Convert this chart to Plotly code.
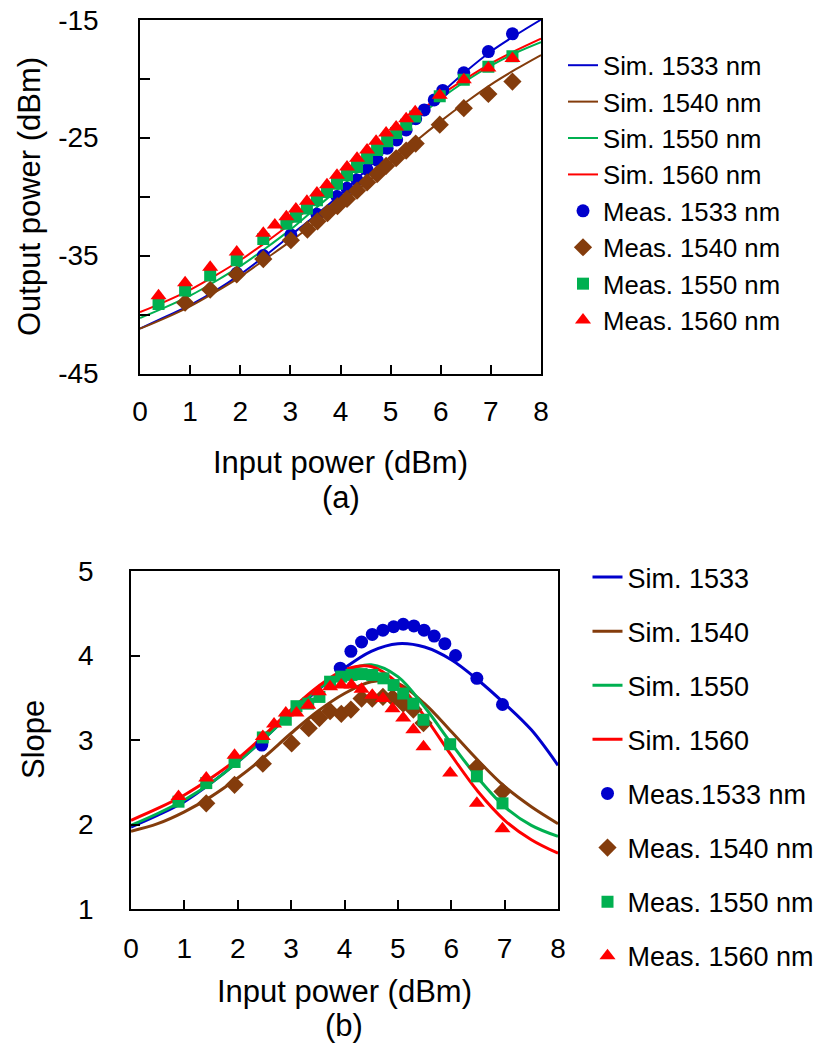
import plotly.graph_objects as go

# ---------------- Data: (a) output power vs input power ----------------
sim_x = [0, 0.5, 1, 1.5, 2, 2.5, 3, 3.5, 4, 4.5, 5, 5.5, 6, 6.5, 7, 7.5, 8]
sim_a_1533 = [-41.2, -40.2, -39.2, -38.0, -36.6, -35.0, -33.3, -31.6, -29.8, -27.8, -25.7, -23.5, -21.3, -19.4, -17.7, -16.3, -15.0]
sim_a_1540 = [-41.2, -40.3, -39.3, -38.1, -36.8, -35.3, -33.8, -32.2, -30.6, -28.9, -27.1, -25.3, -23.6, -22.0, -20.5, -19.2, -18.0]
sim_a_1550 = [-40.3, -39.4, -38.4, -37.2, -35.9, -34.4, -32.8, -31.0, -29.2, -27.3, -25.4, -23.5, -21.7, -20.2, -18.9, -17.8, -16.9]
sim_a_1560 = [-39.8, -38.9, -37.9, -36.7, -35.4, -33.9, -32.3, -30.5, -28.7, -26.8, -24.9, -23.1, -21.4, -20.0, -18.7, -17.6, -16.6]

meas_a_1533_x = [1.93, 2.46, 3.01, 3.53, 3.93, 4.13, 4.33, 4.53, 4.73, 4.93, 5.12, 5.31, 5.50, 5.67, 5.87, 6.04, 6.46, 6.95, 7.43]
meas_a_1533_y = [-36.5, -35.0, -33.25, -31.5, -30.0, -29.3, -28.6, -27.7, -26.9, -25.9, -25.2, -24.35, -23.4, -22.65, -21.8, -21.0, -19.5, -17.7, -16.2]

meas_a_1540_x = [0.90, 1.40, 1.93, 2.46, 3.01, 3.34, 3.54, 3.74, 3.94, 4.13, 4.33, 4.53, 4.73, 4.91, 5.11, 5.31, 5.50, 5.98, 6.46, 6.95, 7.43]
meas_a_1540_y = [-39.0, -37.9, -36.6, -35.3, -33.7, -32.8, -32.1, -31.4, -30.8, -30.2, -29.5, -28.8, -28.1, -27.4, -26.75, -26.1, -25.5, -23.9, -22.5, -21.3, -20.25]

meas_a_1550_x = [0.37, 0.90, 1.40, 1.93, 2.46, 2.92, 3.11, 3.33, 3.53, 3.73, 3.93, 4.13, 4.33, 4.53, 4.73, 4.93, 5.11, 5.31, 5.49, 5.98, 6.46, 6.95, 7.43]
meas_a_1550_y = [-39.1, -37.97, -36.7, -35.4, -33.6, -32.3, -31.7, -31.0, -30.3, -29.6, -28.9, -28.2, -27.5, -26.75, -26.05, -25.3, -24.6, -23.9, -23.2, -21.5, -20.1, -19.0, -18.1]

meas_a_1560_x = [0.37, 0.90, 1.40, 1.93, 2.46, 2.69, 2.92, 3.11, 3.33, 3.53, 3.73, 3.93, 4.13, 4.33, 4.53, 4.71, 4.91, 5.11, 5.31, 5.49, 5.98, 6.46, 6.95, 7.43]
meas_a_1560_y = [-38.4, -37.3, -36.0, -34.7, -33.1, -32.4, -31.7, -31.05, -30.4, -29.7, -29.0, -28.2, -27.5, -26.75, -26.05, -25.3, -24.6, -24.1, -23.4, -22.8, -21.4, -20.1, -19.1, -18.3]

# ---------------- Data: (b) slope vs input power ----------------
sim_b_1533 = [1.97, 2.11, 2.27, 2.49, 2.74, 3.02, 3.32, 3.59, 3.85, 4.05, 4.14, 4.10, 3.95, 3.71, 3.43, 3.12, 2.70]
sim_b_1540 = [1.92, 2.01, 2.15, 2.33, 2.55, 2.80, 3.08, 3.34, 3.55, 3.69, 3.67, 3.43, 3.10, 2.76, 2.45, 2.21, 2.01]
sim_b_1550 = [1.99, 2.13, 2.29, 2.49, 2.74, 3.02, 3.32, 3.60, 3.81, 3.89, 3.75, 3.39, 2.96, 2.55, 2.21, 1.99, 1.86]
sim_b_1560 = [2.05, 2.19, 2.35, 2.55, 2.78, 3.06, 3.36, 3.63, 3.83, 3.87, 3.67, 3.28, 2.82, 2.39, 2.05, 1.82, 1.66]

meas_b_1533_x = [2.45, 3.92, 4.12, 4.32, 4.52, 4.72, 4.92, 5.10, 5.30, 5.49, 5.68, 5.88, 6.08, 6.48, 6.96]
meas_b_1533_y = [2.94, 3.85, 4.05, 4.16, 4.25, 4.30, 4.34, 4.37, 4.35, 4.30, 4.23, 4.14, 4.00, 3.73, 3.42]

meas_b_1540_x = [1.41, 1.94, 2.47, 3.01, 3.33, 3.53, 3.73, 3.94, 4.12, 4.32, 4.52, 4.72, 4.90, 5.10, 5.29, 5.48, 6.48, 6.96]
meas_b_1540_y = [2.25, 2.47, 2.72, 2.96, 3.14, 3.26, 3.34, 3.31, 3.36, 3.49, 3.49, 3.51, 3.50, 3.43, 3.36, 3.20, 2.68, 2.39]

meas_b_1550_x = [0.89, 1.41, 1.94, 2.47, 2.90, 3.10, 3.32, 3.53, 3.73, 3.94, 4.13, 4.32, 4.52, 4.73, 4.92, 5.10, 5.29, 5.48, 5.98, 6.48, 6.96]
meas_b_1550_y = [2.27, 2.49, 2.74, 3.03, 3.24, 3.40, 3.43, 3.51, 3.69, 3.75, 3.77, 3.78, 3.77, 3.73, 3.65, 3.55, 3.43, 3.24, 2.95, 2.57, 2.25]

meas_b_1560_x = [0.89, 1.41, 1.94, 2.47, 2.68, 2.90, 3.10, 3.32, 3.52, 3.73, 3.94, 4.13, 4.32, 4.52, 4.72, 4.90, 5.10, 5.29, 5.48, 5.98, 6.48, 6.96]
meas_b_1560_y = [2.33, 2.55, 2.82, 3.04, 3.19, 3.32, 3.32, 3.41, 3.57, 3.63, 3.65, 3.65, 3.60, 3.53, 3.49, 3.37, 3.26, 3.12, 2.92, 2.61, 2.25, 1.95]

x_ticks = [0, 1, 2, 3, 4, 5, 6, 7, 8]
y_a_ticks = [-45, -35, -25, -15]
y_a_ticktext = ["-45", "-35", "-25", "-15"]
y_b_ticks = [1, 2, 3, 4, 5]
names_sim_a = ["Sim. 1533 nm", "Sim. 1540 nm", "Sim. 1550 nm", "Sim. 1560 nm"]
names_meas_a = ["Meas. 1533 nm", "Meas. 1540 nm", "Meas. 1550 nm", "Meas. 1560 nm"]
names_sim_b = ["Sim. 1533", "Sim. 1540", "Sim. 1550", "Sim. 1560"]
names_meas_b = ["Meas.1533 nm", "Meas. 1540 nm", "Meas. 1550 nm", "Meas. 1560 nm"]

# ---------------- Styling ----------------
W, H = 817, 1048
FONT = "Liberation Sans, Arial, sans-serif"
line_colors = ["#0000CC", "#843C0C", "#00B050", "#FF0000"]
mark_colors = ["#0000CC", "#843C0C", "#00B050", "#FF0000"]
symbols = ["circle", "diamond", "square", "triangle-up"]
msizes = [13, 14, 12, 14]

fig = go.Figure()

sims_a = [sim_a_1533, sim_a_1540, sim_a_1550, sim_a_1560]
meas_a = [(meas_a_1533_x, meas_a_1533_y), (meas_a_1540_x, meas_a_1540_y),
          (meas_a_1550_x, meas_a_1550_y), (meas_a_1560_x, meas_a_1560_y)]
sims_b = [sim_b_1533, sim_b_1540, sim_b_1550, sim_b_1560]
meas_b = [(meas_b_1533_x, meas_b_1533_y), (meas_b_1540_x, meas_b_1540_y),
          (meas_b_1550_x, meas_b_1550_y), (meas_b_1560_x, meas_b_1560_y)]

for i in range(4):
    fig.add_trace(go.Scatter(x=sim_x, y=sims_a[i], mode="lines", name=names_sim_a[i],
                             line=dict(color=line_colors[i], width=2, shape="spline"),
                             xaxis="x", yaxis="y", legend="legend"))
for i in range(4):
    fig.add_trace(go.Scatter(x=meas_a[i][0], y=meas_a[i][1], mode="markers", name=names_meas_a[i],
                             marker=dict(color=mark_colors[i], symbol=symbols[i], size=msizes[i]),
                             xaxis="x", yaxis="y", legend="legend"))
for i in range(4):
    fig.add_trace(go.Scatter(x=sim_x, y=sims_b[i], mode="lines", name=names_sim_b[i],
                             line=dict(color=line_colors[i], width=3, shape="spline"),
                             xaxis="x2", yaxis="y2", legend="legend2", legendgroup=f"b{i}"))
for i in range(4):
    fig.add_trace(go.Scatter(x=meas_b[i][0], y=meas_b[i][1], mode="markers", name=names_meas_b[i],
                             marker=dict(color=mark_colors[i], symbol=symbols[i], size=msizes[i]),
                             xaxis="x2", yaxis="y2", legend="legend2", legendgroup=f"bm{i}"))

axis_common = dict(showline=True, linecolor="#000000", linewidth=1.5, mirror=True,
                   ticks="inside", tickcolor="#000000", tickwidth=1.5,
                   showgrid=False, zeroline=False, automargin=False,
                   tickfont=dict(family=FONT, size=28, color="#000000"))

TF = dict(family=FONT, size=31, color="#000000")


def ann(text, x, y, angle=0):
    return dict(text=text, x=x / W, y=1 - y / H, xref="paper", yref="paper",
                xanchor="center", yanchor="middle", textangle=angle,
                showarrow=False, font=TF)


fig.update_layout(
    width=W, height=H,
    margin=dict(l=0, r=0, t=0, b=0, pad=0, autoexpand=False),
    paper_bgcolor="white", plot_bgcolor="white",
    font=dict(family=FONT, color="#000000"),
    xaxis=dict(domain=[140 / W, 541 / W], range=[0, 8], tickvals=x_ticks, ticklen=9,
               anchor="y", ticklabelstandoff=12, **axis_common),
    yaxis=dict(domain=[1 - 373.5 / H, 1 - 19.7 / H], range=[-45, -15],
               tickvals=y_a_ticks, ticktext=y_a_ticktext,
               ticklen=10, anchor="x", ticklabelstandoff=34,
               minor=dict(dtick=5, tick0=-15, ticks="inside", ticklen=10, tickcolor="#000000", tickwidth=1.5),
               **axis_common),
    xaxis2=dict(domain=[131 / W, 558 / W], range=[0, 8], tickvals=x_ticks, ticklen=9,
                anchor="y2", ticklabelstandoff=14, **axis_common),
    yaxis2=dict(domain=[1 - 909 / H, 1 - 571 / H], range=[1, 5], tickvals=y_b_ticks, ticklen=9,
                anchor="x2", ticklabelstandoff=30, **axis_common),
    legend=dict(x=563 / W, y=1 - 42 / H, xanchor="left", yanchor="top",
                font=dict(family=FONT, size=25.7, color="#000000"),
                bgcolor="rgba(0,0,0,0)", tracegroupgap=0, itemwidth=30),
    legend2=dict(x=587.5 / W, y=1 - 553 / H, xanchor="left", yanchor="top",
                 font=dict(family=FONT, size=27, color="#000000"),
                 bgcolor="rgba(0,0,0,0)", tracegroupgap=16, itemwidth=30),
    annotations=[
        ann("Input power (dBm)", 340.5, 463),
        ann("(a)", 340.5, 497),
        ann("Output power (dBm)", 30, 197, -90),
        ann("Input power (dBm)", 344, 991),
        ann("(b)", 344, 1025),
        ann("Slope", 33, 740, -90),
    ],
)

fig.write_html("out.html")
